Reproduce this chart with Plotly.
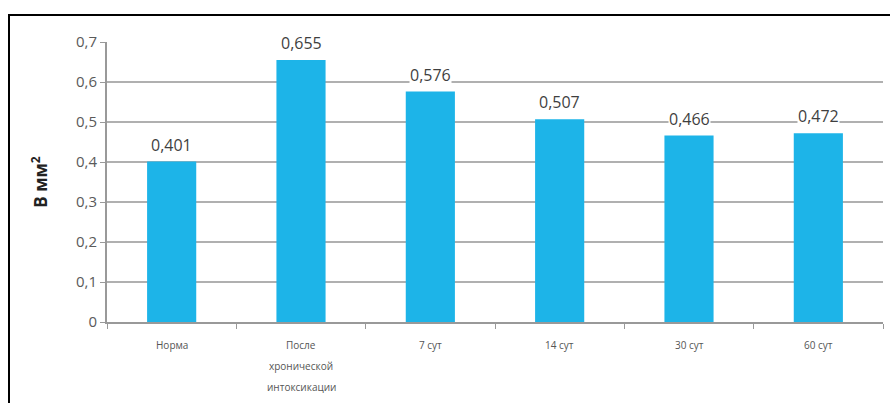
import plotly.graph_objects as go

categories = ["Норма", "После<br>хронической<br>интоксикации", "7 сут", "14 сут", "30 сут", "60 сут"]
values = [0.401, 0.655, 0.576, 0.507, 0.466, 0.472]
y_ticks = [0, 0.1, 0.2, 0.3, 0.4, 0.5, 0.6, 0.7]
y_tick_labels = ["0", "0,1", "0,2", "0,3", "0,4", "0,5", "0,6", "0,7"]

bar_color = "#1db4e8"
font_family = "Open Sans, Arial"

fig = go.Figure(go.Bar(
    x=categories, y=values, marker=dict(color=bar_color, line=dict(width=0)),
    width=0.38, hoverinfo="skip",
))

# Value labels on a white box so they cut through the gridlines
for cat, v in zip(categories, values):
    fig.add_annotation(
        x=cat, y=v, text=f"{v:.3f}".replace(".", ","), showarrow=False,
        yanchor="bottom", yshift=5, bgcolor="white", borderpad=0,
        font=dict(family=font_family, size=16, color="#3f3f3f"),
    )

# Category labels, one line at a time with wide line spacing
for cat in categories:
    for i, line in enumerate(cat.split("<br>")):
        fig.add_annotation(
            x=cat, y=0, yref="y", text=line, showarrow=False,
            yanchor="middle", yshift=-23 - 21 * i,
            font=dict(family=font_family, size=10, color="#555"),
        )

# Chart frame: an oversized bordered box whose left and top edges show
fig.add_annotation(
    xref="paper", yref="paper", x=-0.1276, y=1.1,
    xanchor="left", yanchor="top", text=" ", showarrow=False,
    width=1000, height=500, bordercolor="black", borderwidth=2, borderpad=0,
)

fig.update_layout(
    width=890, height=403,
    margin=dict(l=107, r=7, t=42, b=81),
    plot_bgcolor="white", paper_bgcolor="white",
    showlegend=False, bargap=0.62,
    xaxis=dict(
        type="category", tickson="boundaries", ticks="outside", ticklen=5,
        tickcolor="#999", showline=True, linecolor="#999", linewidth=2,
        showticklabels=False, showgrid=False,
    ),
    yaxis=dict(
        range=[0, 0.7], tickvals=y_ticks, ticktext=y_tick_labels,
        ticks="outside", ticklen=5, tickcolor="#999",
        showline=True, linecolor="#999", linewidth=2,
        gridcolor="#b0b0b0", gridwidth=1.5, zeroline=False,
        tickfont=dict(family=font_family, size=15, color="#5a5a5a"),
        title=dict(text="<b>В мм<sup>2</sup></b>", standoff=24,
                   font=dict(family=font_family, size=17, color="#222")),
    ),
)

fig.write_html("out.html")
